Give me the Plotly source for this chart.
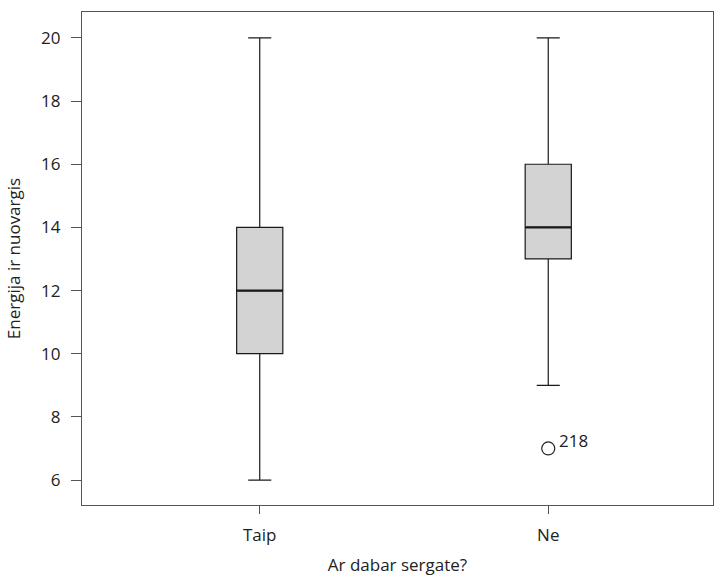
import plotly.graph_objects as go

categories = ["Taip", "Ne"]
q1 = [10, 13]
median = [12, 14]
q3 = [14, 16]
lower = [6, 9]
upper = [20, 20]
outlier_cat = [1]
outlier_val = [7]
outlier_label = ["218"]
yticks = [6, 8, 10, 12, 14, 16, 18, 20]

BW = 0.16
FONT = "Open Sans, Noto Sans, sans-serif"

fig = go.Figure()
for i, c in enumerate(categories):
    fig.add_trace(go.Box(
        x=[i], q1=[q1[i]], median=[median[i]], q3=[q3[i]],
        lowerfence=[lower[i]], upperfence=[upper[i]],
        width=BW, whiskerwidth=0.5,
        fillcolor="#d3d3d3", line=dict(color="#1a1a1a", width=1.2),
        boxpoints=False, showlegend=False, hoverinfo="skip", name=c,
    ))
    fig.add_trace(go.Scatter(
        x=[i - BW / 2, i + BW / 2], y=[median[i], median[i]],
        mode="lines", line=dict(color="#1a1a1a", width=2.2),
        showlegend=False, hoverinfo="skip",
    ))

fig.add_trace(go.Scatter(
    x=outlier_cat, y=outlier_val, mode="markers",
    marker=dict(symbol="circle-open", size=13, color="#222", line=dict(width=1.2)),
    showlegend=False, hoverinfo="skip",
))
for xc, yv, lab in zip(outlier_cat, outlier_val, outlier_label):
    fig.add_annotation(
        x=xc, y=yv, xref="x", yref="y", text=lab, showarrow=False,
        xanchor="left", yanchor="middle", xshift=9, yshift=8,
        font=dict(family=FONT, size=17, color="#222"),
    )

fig.update_layout(
    width=720, height=579,
    margin=dict(l=82, r=7, t=12, b=74),
    paper_bgcolor="white", plot_bgcolor="white",
    font=dict(family=FONT, size=17, color="#222"),
)
fig.update_xaxes(
    range=[-0.616, 1.571], tickvals=[0, 1], ticktext=categories,
    showgrid=False, zeroline=False,
    showline=True, linecolor="#555", linewidth=1.2, mirror=True,
    ticks="outside", ticklen=8, tickcolor="#555",
    tickfont=dict(size=17), ticklabelstandoff=6,
    title=dict(text="Ar dabar sergate?", font=dict(size=17), standoff=14),
)
fig.update_yaxes(
    range=[5.21, 20.82], tickvals=yticks,
    showgrid=False, zeroline=False,
    showline=True, linecolor="#555", linewidth=1.2, mirror=True,
    ticks="outside", ticklen=10, tickcolor="#555",
    tickfont=dict(size=17), ticklabelstandoff=7,
    title=dict(text="Energija ir nuovargis", font=dict(size=17), standoff=16),
)

fig.write_html("out.html")
